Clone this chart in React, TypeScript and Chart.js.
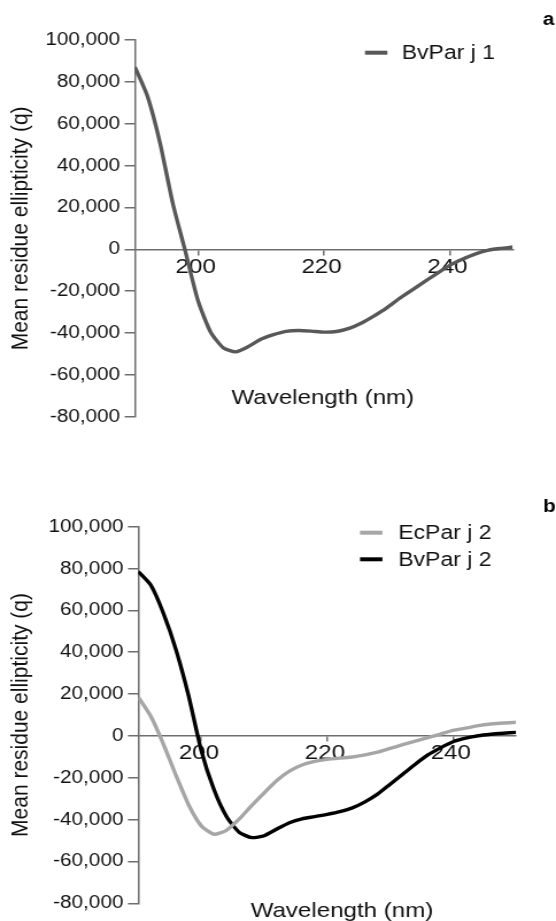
import React, { useEffect, useRef } from "react";
import { Chart, registerables } from "chart.js";

Chart.register(...registerables);

// ---------------- data ----------------
const wavelengths = [
  190, 192, 194, 196, 198, 200, 202, 204, 206, 208, 210, 212, 214, 216, 218, 220,
  222, 224, 226, 228, 230, 232, 234, 236, 238, 240, 242, 244, 246, 248, 250,
];

const bvParj1 = [
  87000, 73000, 50500, 22000, -1000, -24500, -39500, -47000, -49000, -46500, -43000,
  -40800, -39200, -38800, -39100, -39600, -39300, -37800, -35200, -31800, -28000,
  -23500, -19500, -15500, -11500, -7700, -4800, -2300, -500, 400, 1100,
];

const ecParj2 = [
  18500, 9300, -4000, -19000, -33000, -43000, -47000, -45100, -39800, -33300, -27200,
  -21300, -16800, -13900, -12200, -11200, -10600, -10100, -9100, -7800, -6000, -4200,
  -2500, -800, 900, 2600, 3700, 4900, 5700, 6200, 6500,
];

const bvParj2 = [
  78500, 72000, 58500, 41000, 19000, -7000, -25500, -38500, -46000, -48600, -47700,
  -44500, -41500, -39600, -38600, -37500, -36200, -34400, -31500, -27800, -23100,
  -18300, -13500, -9100, -5700, -2800, -1100, 100, 800, 1300, 1700,
];

const yTickValues = [-80000, -60000, -40000, -20000, 0, 20000, 40000, 60000, 80000, 100000];
const xTickValues = [200, 220, 240];

const yTitle = "Mean residue ellipticity (q)";
const xTitle = "Wavelength (nm)";

// ---------------- styling ----------------
const PAGE_W = 556;
const CANVAS_W = 484; // drawn narrower, shown stretched to PAGE_W
const FONT = "'Liberation Sans', Arial, Helvetica, sans-serif";
const AXIS = "#6e6e6e";

function fmt(v: number): string {
  const s = String(Math.abs(Math.round(v))).replace(/\B(?=(\d{3})+(?!\d))/g, ",");
  return v < 0 ? "-" + s : s;
}

const overlayPlugin = {
  id: "overlay",
  afterDraw(chart: any, _args: any, opts: any) {
    const ctx = chart.ctx as CanvasRenderingContext2D;
    ctx.save();
    // panel letter
    ctx.font = `bold 18px ${FONT}`;
    ctx.fillStyle = "#000";
    ctx.textAlign = "left";
    ctx.textBaseline = "alphabetic";
    ctx.fillText(opts.letter, opts.letterX, opts.letterY);
    // legend
    ctx.font = `20px ${FONT}`;
    ctx.textBaseline = "middle";
    chart.data.datasets.forEach((ds: any, i: number) => {
      const y = opts.legendY + i * opts.legendGap;
      ctx.strokeStyle = ds.borderColor;
      ctx.lineWidth = 4;
      ctx.beginPath();
      ctx.moveTo(opts.legendX, y);
      ctx.lineTo(opts.legendX + 19.5, y);
      ctx.stroke();
      ctx.fillStyle = "#111";
      ctx.fillText(ds.label, opts.legendX + opts.legendTextGap, y + 1);
    });
    // x title
    ctx.font = `21px ${FONT}`;
    ctx.textAlign = "center";
    ctx.textBaseline = "alphabetic";
    ctx.fillStyle = "#111";
    ctx.fillText(xTitle, opts.xTitleX, opts.xTitleY);
    ctx.restore();
  },
};

type Series = { label: string; values: number[]; color: string };

type PanelProps = {
  height: number;
  padding: { left: number; right: number; top: number; bottom: number };
  yAxisWidth: number;
  series: Series[];
  overlay: any;
};

function Panel(props: PanelProps) {
  const ref = useRef<HTMLCanvasElement | null>(null);
  useEffect(() => {
    if (!ref.current) return;
    const chart = new Chart(ref.current, {
      type: "line",
      data: {
        datasets: props.series.map((s) => ({
          label: s.label,
          data: wavelengths.map((x, i) => ({ x, y: s.values[i] })),
          borderColor: s.color,
          backgroundColor: s.color,
          borderWidth: 3.4,
          pointRadius: 0,
          tension: 0.2,
          fill: false,
        })),
      },
      options: {
        responsive: false,
        devicePixelRatio: 1,
        animation: false,
        layout: { padding: props.padding },
        plugins: {
          legend: { display: false },
          tooltip: { enabled: false },
          overlay: props.overlay,
        } as any,
        scales: {
          x: {
            type: "linear",
            min: 190,
            max: 250,
            position: { y: 0 } as any,
            afterBuildTicks: (s: any) => {
              s.ticks = xTickValues.map((v) => ({ value: v }));
            },
            grid: {
              drawOnChartArea: false,
              drawTicks: true,
              tickLength: 5,
              color: AXIS,
              lineWidth: 1.5,
            },
            border: { display: true, color: AXIS, width: 1.5 },
            ticks: {
              font: { family: FONT, size: 21 },
              color: "#111",
              padding: 0,
              labelOffset: -2,
              maxRotation: 0,
              autoSkip: false,
            },
          },
          y: {
            type: "linear",
            position: "left",
            min: -80000,
            max: 100000,
            afterBuildTicks: (s: any) => {
              s.ticks = yTickValues.map((v) => ({ value: v }));
            },
            afterFit: (s: any) => {
              s.width = props.yAxisWidth;
            },
            grid: {
              drawOnChartArea: false,
              drawTicks: true,
              tickLength: 9,
              color: AXIS,
              lineWidth: 1.5,
            },
            border: { display: true, color: AXIS, width: 1.5 },
            ticks: {
              font: { family: FONT, size: 18 },
              color: "#111",
              padding: 4,
              callback: (v: any) => fmt(Number(v)),
            },
            title: {
              display: true,
              text: yTitle,
              font: { family: FONT, size: 21 },
              color: "#111",
              padding: { top: 6, bottom: 0 },
            },
          },
        },
      } as any,
      plugins: [overlayPlugin],
    });
    return () => chart.destroy();
  }, []);
  return (
    <canvas
      ref={ref}
      width={CANVAS_W}
      height={props.height}
      style={{ display: "block", width: PAGE_W + "px", height: props.height + "px" }}
    />
  );
}

export default function App() {
  return (
    <div style={{ position: "absolute", left: 0, top: 0, width: PAGE_W, background: "#fff" }}>
      <Panel
        height={460}
        padding={{ left: 0, right: CANVAS_W - 446.3, top: 40, bottom: 460 - 416.7 }}
        yAxisWidth={117.5}
        series={[{ label: "BvPar j 1", values: bvParj1, color: "#585858" }]}
        overlay={{
          letter: "a",
          letterX: 472.4,
          letterY: 25,
          legendX: 317.7,
          legendY: 52.7,
          legendGap: 26.7,
          legendTextGap: 32,
          xTitleX: 281,
          xTitleY: 404,
        }}
      />
      <Panel
        height={461}
        padding={{ left: 0, right: CANVAS_W - 449.2, top: 66.7, bottom: 461 - 443.3 }}
        yAxisWidth={120.4}
        series={[
          { label: "EcPar j 2", values: ecParj2, color: "#a6a6a6" },
          { label: "BvPar j 2", values: bvParj2, color: "#000000" },
        ]}
        overlay={{
          letter: "b",
          letterX: 472.7,
          letterY: 51.7,
          legendX: 313.4,
          legendY: 72.7,
          legendGap: 26.6,
          legendTextGap: 33.3,
          xTitleX: 297.7,
          xTitleY: 457,
        }}
      />
    </div>
  );
}
